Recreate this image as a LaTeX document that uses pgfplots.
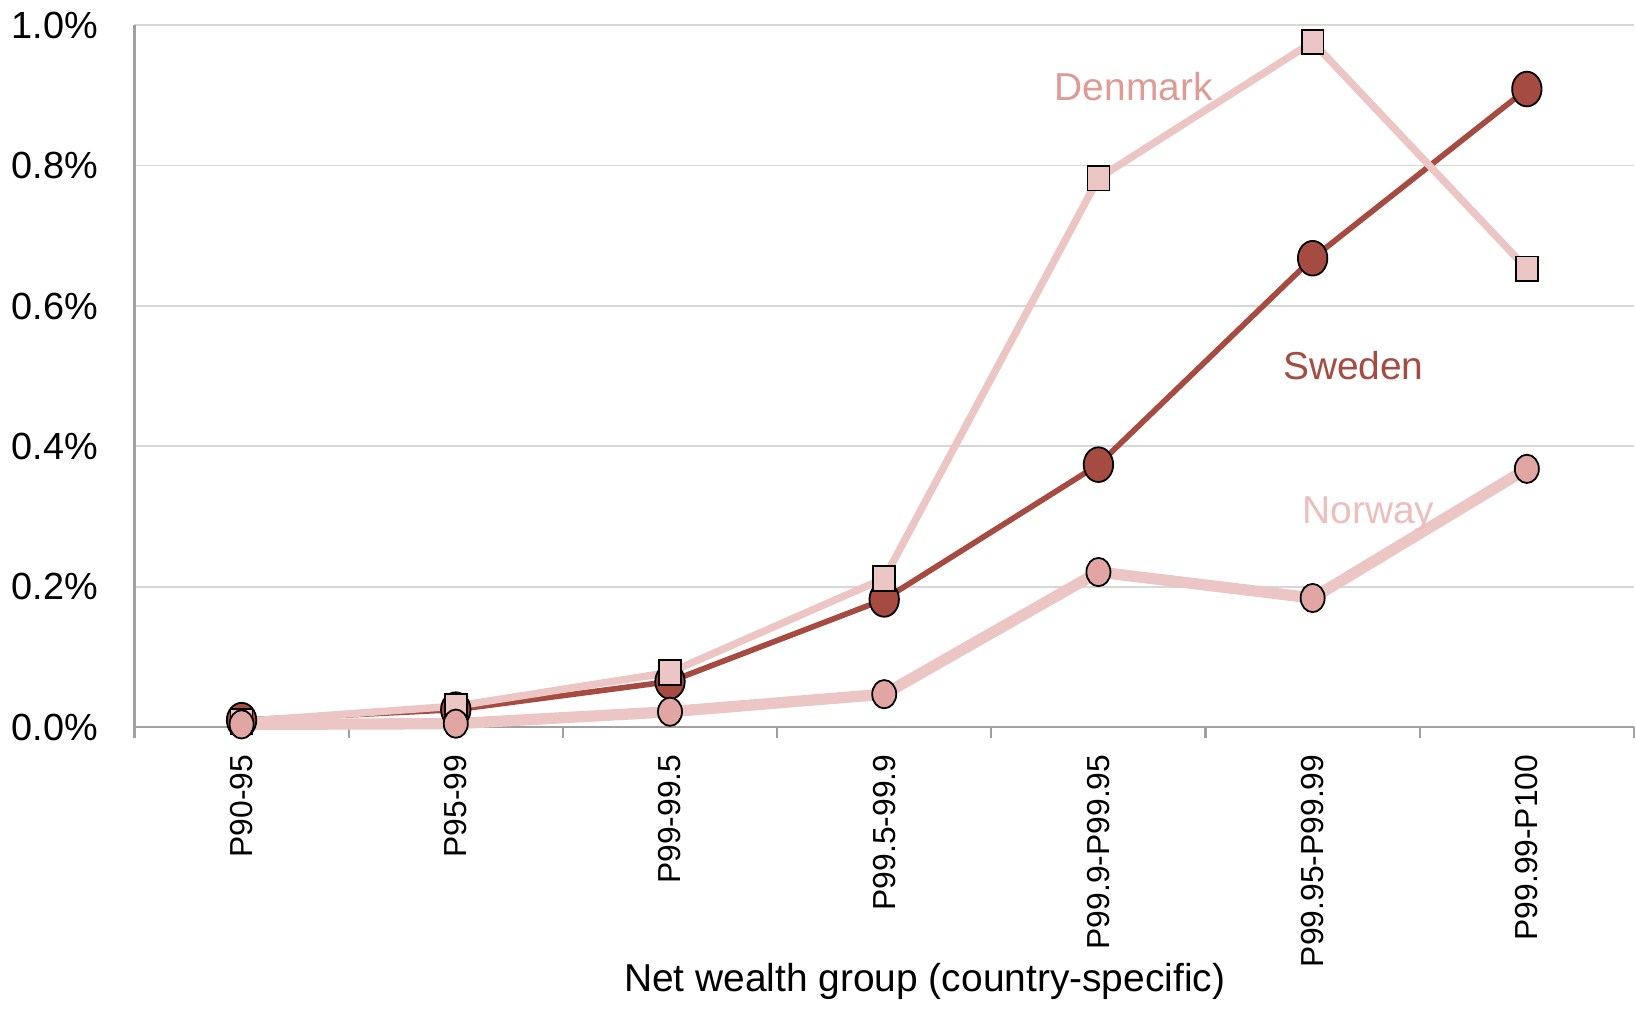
\documentclass[border=0pt]{standalone}
\usepackage{pgfplots}
\pgfplotsset{compat=1.18}
\usepackage{fontspec}
\setmainfont{Liberation Sans}
\definecolor{swe}{RGB}{166,75,66}
\definecolor{denline}{RGB}{236,198,196}
\definecolor{norfill}{RGB}{225,166,163}
\definecolor{dentext}{RGB}{222,155,150}
\definecolor{nortext}{RGB}{236,190,188}
\definecolor{gridc}{RGB}{215,215,215}
\definecolor{axc}{RGB}{160,160,160}
\begin{document}
\begin{tikzpicture}
\begin{axis}[
  scale only axis,
  width=424pt, height=198.5pt,
  xmin=-0.5, xmax=6.5, ymin=0, ymax=1.0,
  axis x line*=bottom, axis y line*=left,
  axis line style={draw=axc, line width=0.6pt, -},
  xtick={0,1,2,3,4,5,6},
  xticklabels={P90-95,P95-99,P99-99.5,P99.5-99.9,P99.9-P99.95,P99.95-P99.99,P99.99-P100},
  minor xtick={-0.5,0.5,1.5,2.5,3.5,4.5,5.5,6.5},
  major x tick style={draw=none},
  minor x tick style={draw=axc, line width=0.6pt},
  tick align=outside,
  minor tick length=3pt,
  xticklabel style={rotate=90, anchor=east, font=\fontsize{9pt}{11pt}\selectfont, inner sep=0pt, xshift=-3.3pt},
  ytick={0,0.2,0.4,0.6,0.8,1.0},
  ytick style={draw=none},
  yticklabel={\pgfmathprintnumber[fixed,fixed zerofill,precision=1]{\tick}\%},
  yticklabel style={font=\fontsize{10.7pt}{12pt}\selectfont, xshift=-2.5pt},
  /pgf/number format/assume math mode=true,
  ymajorgrids, grid style={draw=gridc, line width=0.5pt},
  xlabel={Net wealth group (country-specific)},
  xlabel style={at={(rel axis cs:0.527,0)}, anchor=center, yshift=-72pt, font=\fontsize{11pt}{13pt}\selectfont},
  clip=false,
]
% Sweden
\addplot[color=swe, line width=1.6pt, mark=*, mark size=4.9pt,
  mark options={fill=swe, draw=black, line width=0.5pt, xscale=0.85}]
  coordinates {(0,0.010) (1,0.025) (2,0.065) (3,0.182) (4,0.374) (5,0.668) (6,0.909)};
% Denmark
\addplot[color=denline, line width=2.1pt, mark=square*, mark size=3.1pt,
  mark options={fill=denline, draw=black, line width=0.5pt, yscale=1.12}]
  coordinates {(0,0.008) (1,0.030) (2,0.078) (3,0.212) (4,0.782) (5,0.976) (6,0.653)};
% Norway
\addplot[color=denline, line width=3.2pt, mark=*, mark size=4pt,
  mark options={fill=norfill, draw=black, line width=0.5pt, xscale=0.85}]
  coordinates {(0,0.004) (1,0.005) (2,0.022) (3,0.047) (4,0.221) (5,0.184) (6,0.368)};
\node[text=dentext, font=\fontsize{11pt}{13pt}\selectfont] at (axis cs:4.165,0.912) {Denmark};
\node[text=swe, font=\fontsize{11pt}{13pt}\selectfont] at (axis cs:5.19,0.515) {Sweden};
\node[text=nortext, font=\fontsize{11pt}{13pt}\selectfont] at (axis cs:5.26,0.303) {Norway};
\end{axis}
\end{tikzpicture}
\end{document}
